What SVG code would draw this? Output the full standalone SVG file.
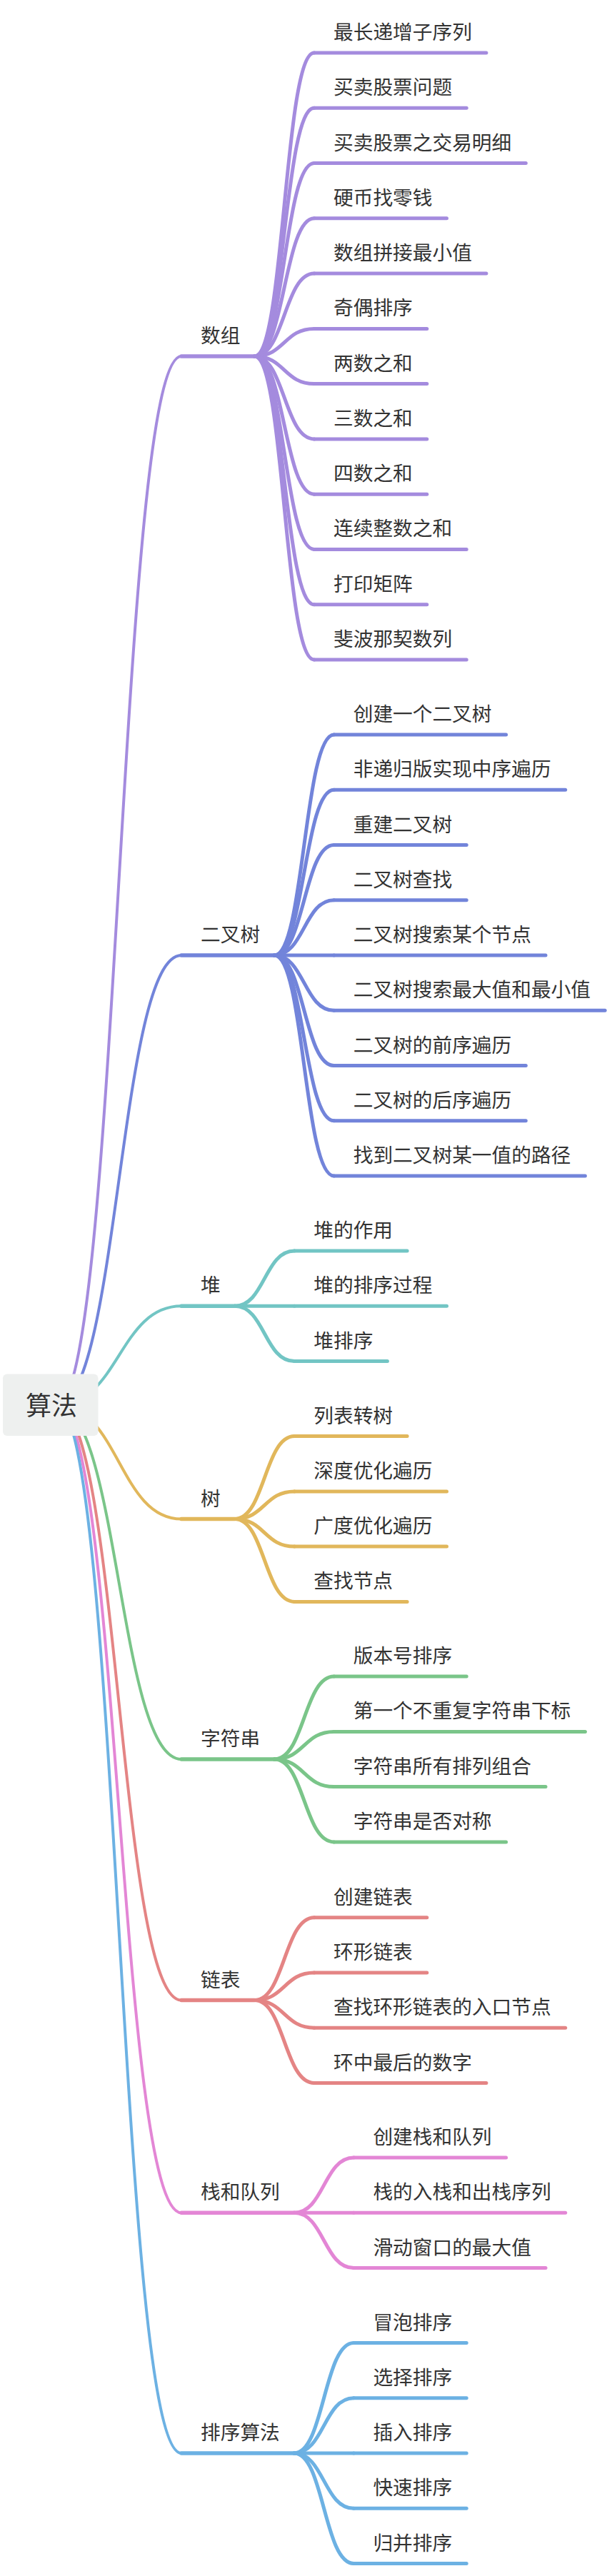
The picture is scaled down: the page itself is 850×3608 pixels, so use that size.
<svg xmlns="http://www.w3.org/2000/svg" width="850" height="3608" viewBox="0 0 850 3608">
<style>
text{font-family:"Noto Sans CJK SC","Noto Sans",sans-serif;fill:#333;stroke:none;font-size:27.7px}
.root{font-size:36px}
path{fill:none;stroke-linecap:round;stroke-linejoin:round}
.r{stroke-width:4}
.l{stroke-width:5}
.u1{stroke-width:5.5}
.c1{stroke:#A48BDE}.c2{stroke:#7284DA}.c3{stroke:#72C5C4}.c4{stroke:#E1B75B}
.c5{stroke:#7AC589}.c6{stroke:#E48484}.c7{stroke:#E386D5}.c8{stroke:#6CB1E3}
</style>
<g id="connectors">
<path class="r c1" d="M79 1968C166.5 1968 166.5 499 254 499"/>
<path class="r c2" d="M79 1968C166.5 1968 166.5 1338 254 1338"/>
<path class="r c3" d="M79 1968C166.5 1968 166.5 1829.3 254 1829.3"/>
<path class="r c4" d="M79 1968C166.5 1968 166.5 2127.5 254 2127.5"/>
<path class="r c5" d="M79 1968C166.5 1968 166.5 2464 254 2464"/>
<path class="r c6" d="M79 1968C166.5 1968 166.5 2801.6 254 2801.6"/>
<path class="r c7" d="M79 1968C166.5 1968 166.5 3099.3 254 3099.3"/>
<path class="r c8" d="M79 1968C166.5 1968 166.5 3436 254 3436"/>
<g class="c1">
<path class="l" d="M356.4 499C398.2 499 398.2 74 440 74"/>
<path class="l" d="M356.4 499C398.2 499 398.2 151.3 440 151.3"/>
<path class="l" d="M356.4 499C398.2 499 398.2 228.5 440 228.5"/>
<path class="l" d="M356.4 499C398.2 499 398.2 305.8 440 305.8"/>
<path class="l" d="M356.4 499C398.2 499 398.2 383.1 440 383.1"/>
<path class="l" d="M356.4 499C398.2 499 398.2 460.4 440 460.4"/>
<path class="l" d="M356.4 499C398.2 499 398.2 537.6 440 537.6"/>
<path class="l" d="M356.4 499C398.2 499 398.2 614.9 440 614.9"/>
<path class="l" d="M356.4 499C398.2 499 398.2 692.2 440 692.2"/>
<path class="l" d="M356.4 499C398.2 499 398.2 769.4 440 769.4"/>
<path class="l" d="M356.4 499C398.2 499 398.2 846.7 440 846.7"/>
<path class="l" d="M356.4 499C398.2 499 398.2 924 440 924"/>
</g>
<g class="c2">
<path class="l" d="M384.1 1338C425.9 1338 425.9 1028.9 467.7 1028.9"/>
<path class="l" d="M384.1 1338C425.9 1338 425.9 1106.2 467.7 1106.2"/>
<path class="l" d="M384.1 1338C425.9 1338 425.9 1183.5 467.7 1183.5"/>
<path class="l" d="M384.1 1338C425.9 1338 425.9 1260.7 467.7 1260.7"/>
<path class="l" d="M384.1 1338C425.9 1338 425.9 1338 467.7 1338"/>
<path class="l" d="M384.1 1338C425.9 1338 425.9 1415.3 467.7 1415.3"/>
<path class="l" d="M384.1 1338C425.9 1338 425.9 1492.5 467.7 1492.5"/>
<path class="l" d="M384.1 1338C425.9 1338 425.9 1569.8 467.7 1569.8"/>
<path class="l" d="M384.1 1338C425.9 1338 425.9 1647.1 467.7 1647.1"/>
</g>
<g class="c3">
<path class="l" d="M328.7 1829.3C370.5 1829.3 370.5 1752 412.3 1752"/>
<path class="l" d="M328.7 1829.3C370.5 1829.3 370.5 1829.3 412.3 1829.3"/>
<path class="l" d="M328.7 1829.3C370.5 1829.3 370.5 1906.6 412.3 1906.6"/>
</g>
<g class="c4">
<path class="l" d="M328.7 2127.5C370.5 2127.5 370.5 2011.6 412.3 2011.6"/>
<path class="l" d="M328.7 2127.5C370.5 2127.5 370.5 2088.9 412.3 2088.9"/>
<path class="l" d="M328.7 2127.5C370.5 2127.5 370.5 2166.1 412.3 2166.1"/>
<path class="l" d="M328.7 2127.5C370.5 2127.5 370.5 2243.4 412.3 2243.4"/>
</g>
<g class="c5">
<path class="l" d="M384.1 2464C425.9 2464 425.9 2348.1 467.7 2348.1"/>
<path class="l" d="M384.1 2464C425.9 2464 425.9 2425.4 467.7 2425.4"/>
<path class="l" d="M384.1 2464C425.9 2464 425.9 2502.6 467.7 2502.6"/>
<path class="l" d="M384.1 2464C425.9 2464 425.9 2579.9 467.7 2579.9"/>
</g>
<g class="c6">
<path class="l" d="M356.4 2801.6C398.2 2801.6 398.2 2685.7 440 2685.7"/>
<path class="l" d="M356.4 2801.6C398.2 2801.6 398.2 2763 440 2763"/>
<path class="l" d="M356.4 2801.6C398.2 2801.6 398.2 2840.2 440 2840.2"/>
<path class="l" d="M356.4 2801.6C398.2 2801.6 398.2 2917.5 440 2917.5"/>
</g>
<g class="c7">
<path class="l" d="M411.8 3099.3C453.6 3099.3 453.6 3022 495.4 3022"/>
<path class="l" d="M411.8 3099.3C453.6 3099.3 453.6 3099.3 495.4 3099.3"/>
<path class="l" d="M411.8 3099.3C453.6 3099.3 453.6 3176.6 495.4 3176.6"/>
</g>
<g class="c8">
<path class="l" d="M411.8 3436C453.6 3436 453.6 3281.5 495.4 3281.5"/>
<path class="l" d="M411.8 3436C453.6 3436 453.6 3358.7 495.4 3358.7"/>
<path class="l" d="M411.8 3436C453.6 3436 453.6 3436 495.4 3436"/>
<path class="l" d="M411.8 3436C453.6 3436 453.6 3513.3 495.4 3513.3"/>
<path class="l" d="M411.8 3436C453.6 3436 453.6 3590.5 495.4 3590.5"/>
</g>
</g>

<g id="root">
<rect x="4" y="1924.5" width="133.5" height="86.5" rx="6" fill="#EEF0EF"/>
<text class="root" x="36" y="1982">算法</text>
</g>

<g id="n-shuzu" class="c1">
<path class="u1" d="M254 499H356.4"/>
<text x="281" y="480">数组</text>
</g>
<g id="n-shuzu-children" class="c1">
<g id="n1-1"><path class="l" d="M440 74H680.9"/><text x="467" y="55">最长递增子序列</text></g>
<g id="n1-2"><path class="l" d="M440 151.3H653.2"/><text x="467" y="132.3">买卖股票问题</text></g>
<g id="n1-3"><path class="l" d="M440 228.5H736.3"/><text x="467" y="209.5">买卖股票之交易明细</text></g>
<g id="n1-4"><path class="l" d="M440 305.8H625.5"/><text x="467" y="286.8">硬币找零钱</text></g>
<g id="n1-5"><path class="l" d="M440 383.1H680.9"/><text x="467" y="364.1">数组拼接最小值</text></g>
<g id="n1-6"><path class="l" d="M440 460.4H597.8"/><text x="467" y="441.4">奇偶排序</text></g>
<g id="n1-7"><path class="l" d="M440 537.6H597.8"/><text x="467" y="518.6">两数之和</text></g>
<g id="n1-8"><path class="l" d="M440 614.9H597.8"/><text x="467" y="595.9">三数之和</text></g>
<g id="n1-9"><path class="l" d="M440 692.2H597.8"/><text x="467" y="673.2">四数之和</text></g>
<g id="n1-10"><path class="l" d="M440 769.4H653.2"/><text x="467" y="750.4">连续整数之和</text></g>
<g id="n1-11"><path class="l" d="M440 846.7H597.8"/><text x="467" y="827.7">打印矩阵</text></g>
<g id="n1-12"><path class="l" d="M440 924H653.2"/><text x="467" y="905">斐波那契数列</text></g>
</g>

<g id="n-erchashu" class="c2">
<path class="u1" d="M254 1338H384.1"/>
<text x="281" y="1319">二叉树</text>
</g>
<g id="n-erchashu-children" class="c2">
<g id="n2-1"><path class="l" d="M467.7 1028.9H708.6"/><text x="494.7" y="1009.9">创建一个二叉树</text></g>
<g id="n2-2"><path class="l" d="M467.7 1106.2H791.7"/><text x="494.7" y="1087.2">非递归版实现中序遍历</text></g>
<g id="n2-3"><path class="l" d="M467.7 1183.5H653.2"/><text x="494.7" y="1164.5">重建二叉树</text></g>
<g id="n2-4"><path class="l" d="M467.7 1260.7H653.2"/><text x="494.7" y="1241.7">二叉树查找</text></g>
<g id="n2-5"><path class="l" d="M467.7 1338H764"/><text x="494.7" y="1319">二叉树搜索某个节点</text></g>
<g id="n2-6"><path class="l" d="M467.7 1415.3H847.1"/><text x="494.7" y="1396.3">二叉树搜索最大值和最小值</text></g>
<g id="n2-7"><path class="l" d="M467.7 1492.5H736.3"/><text x="494.7" y="1473.5">二叉树的前序遍历</text></g>
<g id="n2-8"><path class="l" d="M467.7 1569.8H736.3"/><text x="494.7" y="1550.8">二叉树的后序遍历</text></g>
<g id="n2-9"><path class="l" d="M467.7 1647.1H819.4"/><text x="494.7" y="1628.1">找到二叉树某一值的路径</text></g>
</g>

<g id="n-dui" class="c3">
<path class="u1" d="M254 1829.3H328.7"/>
<text x="281" y="1810.3">堆</text>
</g>
<g id="n-dui-children" class="c3">
<g id="n3-1"><path class="l" d="M412.3 1752H570.1"/><text x="439.3" y="1733">堆的作用</text></g>
<g id="n3-2"><path class="l" d="M412.3 1829.3H625.5"/><text x="439.3" y="1810.3">堆的排序过程</text></g>
<g id="n3-3"><path class="l" d="M412.3 1906.6H542.4"/><text x="439.3" y="1887.6">堆排序</text></g>
</g>

<g id="n-shu" class="c4">
<path class="u1" d="M254 2127.5H328.7"/>
<text x="281" y="2108.5">树</text>
</g>
<g id="n-shu-children" class="c4">
<g id="n4-1"><path class="l" d="M412.3 2011.6H570.1"/><text x="439.3" y="1992.6">列表转树</text></g>
<g id="n4-2"><path class="l" d="M412.3 2088.9H625.5"/><text x="439.3" y="2069.9">深度优化遍历</text></g>
<g id="n4-3"><path class="l" d="M412.3 2166.1H625.5"/><text x="439.3" y="2147.1">广度优化遍历</text></g>
<g id="n4-4"><path class="l" d="M412.3 2243.4H570.1"/><text x="439.3" y="2224.4">查找节点</text></g>
</g>

<g id="n-zifuchuan" class="c5">
<path class="u1" d="M254 2464H384.1"/>
<text x="281" y="2445">字符串</text>
</g>
<g id="n-zifuchuan-children" class="c5">
<g id="n5-1"><path class="l" d="M467.7 2348.1H653.2"/><text x="494.7" y="2329.1">版本号排序</text></g>
<g id="n5-2"><path class="l" d="M467.7 2425.4H819.4"/><text x="494.7" y="2406.4">第一个不重复字符串下标</text></g>
<g id="n5-3"><path class="l" d="M467.7 2502.6H764"/><text x="494.7" y="2483.6">字符串所有排列组合</text></g>
<g id="n5-4"><path class="l" d="M467.7 2579.9H708.6"/><text x="494.7" y="2560.9">字符串是否对称</text></g>
</g>

<g id="n-lianbiao" class="c6">
<path class="u1" d="M254 2801.6H356.4"/>
<text x="281" y="2782.6">链表</text>
</g>
<g id="n-lianbiao-children" class="c6">
<g id="n6-1"><path class="l" d="M440 2685.7H597.8"/><text x="467" y="2666.7">创建链表</text></g>
<g id="n6-2"><path class="l" d="M440 2763H597.8"/><text x="467" y="2744">环形链表</text></g>
<g id="n6-3"><path class="l" d="M440 2840.2H791.7"/><text x="467" y="2821.2">查找环形链表的入口节点</text></g>
<g id="n6-4"><path class="l" d="M440 2917.5H680.9"/><text x="467" y="2898.5">环中最后的数字</text></g>
</g>

<g id="n-zhan" class="c7">
<path class="u1" d="M254 3099.3H411.8"/>
<text x="281" y="3080.3">栈和队列</text>
</g>
<g id="n-zhan-children" class="c7">
<g id="n7-1"><path class="l" d="M495.4 3022H708.6"/><text x="522.4" y="3003">创建栈和队列</text></g>
<g id="n7-2"><path class="l" d="M495.4 3099.3H791.7"/><text x="522.4" y="3080.3">栈的入栈和出栈序列</text></g>
<g id="n7-3"><path class="l" d="M495.4 3176.6H764"/><text x="522.4" y="3157.6">滑动窗口的最大值</text></g>
</g>

<g id="n-paixu" class="c8">
<path class="u1" d="M254 3436H411.8"/>
<text x="281" y="3417">排序算法</text>
</g>
<g id="n-paixu-children" class="c8">
<g id="n8-1"><path class="l" d="M495.4 3281.5H653.2"/><text x="522.4" y="3262.5">冒泡排序</text></g>
<g id="n8-2"><path class="l" d="M495.4 3358.7H653.2"/><text x="522.4" y="3339.7">选择排序</text></g>
<g id="n8-3"><path class="l" d="M495.4 3436H653.2"/><text x="522.4" y="3417">插入排序</text></g>
<g id="n8-4"><path class="l" d="M495.4 3513.3H653.2"/><text x="522.4" y="3494.3">快速排序</text></g>
<g id="n8-5"><path class="l" d="M495.4 3590.5H653.2"/><text x="522.4" y="3571.5">归并排序</text></g>
</g>
</svg>
